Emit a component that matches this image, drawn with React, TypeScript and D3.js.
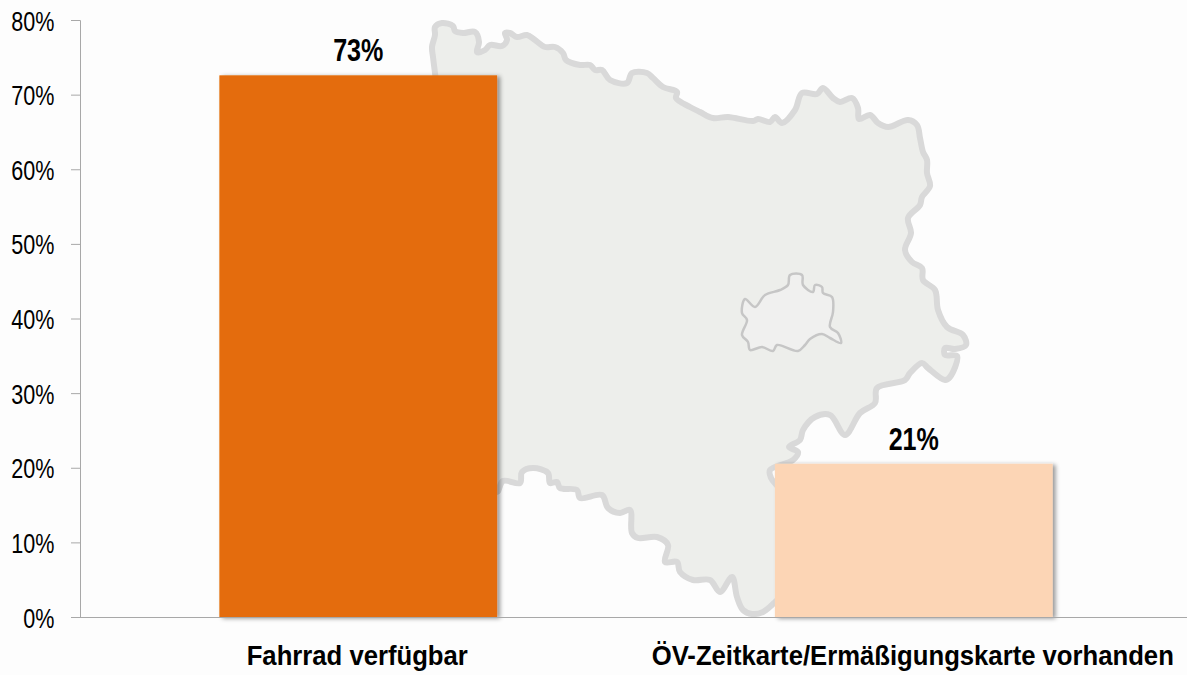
import React from "react";
import * as d3 from "d3";

const categories = ["Fahrrad verfügbar", "ÖV-Zeitkarte/Ermäßigungskarte vorhanden"];
const values = [72.65, 20.6];
const valueLabels = ["73%", "21%"];
const barColors = ["#e46c0a", "#fcd5b5"];
const tickValues = [0, 10, 20, 30, 40, 50, 60, 70, 80];

// Decorative background map, traced in page pixels
const regionOutline: [number, number][] = [
  [435,73],[433,57],[432,47],[435,35],[435,27],[442,23],[453,26],[455,31],[463,33],[475,32],[479,42],[477,52],[485,50],[490,45],[502,46],[507,40],[505,33],[510,33],[517,37],[527,35],[535,40],[545,47],[555,47],[563,53],[566,60],[580,65],[590,65],[595,70],[602,70],[610,80],[627,83],[632,73],[647,73],[653,78],[663,87],[677,92],[676,98],[690,107],[700,112],[713,118],[728,117],[753,121],[758,119],[770,122],[775,117],[782,123],[795,110],[802,93],[817,94],[823,88],[833,98],[840,102],[852,98],[858,108],[859,119],[870,115],[878,123],[888,127],[908,120],[917,125],[920,138],[923,152],[927,160],[927,173],[930,186],[922,197],[920,205],[908,218],[911,233],[905,250],[912,262],[922,268],[923,280],[935,290],[938,310],[947,327],[963,335],[966,345],[955,349],[945,348],[945,355],[957,356],[950,377],[945,380],[928,368],[922,363],[910,373],[905,380],[877,388],[875,403],[860,413],[845,435],[830,415],[815,417],[803,430],[800,440],[789,447],[798,452],[793,460],[770,470],[771,478],[780,490],[790,540],[785,590],[775,602],[763,612],[752,614],[743,610],[737,597],[732,577],[720,592],[710,580],[693,580],[680,572],[677,562],[665,562],[668,545],[657,537],[638,538],[632,533],[630,510],[620,513],[608,508],[602,495],[580,498],[577,490],[560,488],[557,482],[550,483],[548,473],[533,468],[522,472],[520,483],[503,481],[497,492],[480,400],[450,200],
];
const cityOutline: [number, number][] = [
  [790,275],[802,275],[803,285],[813,292],[815,285],[822,287],[823,293],[832,297],[833,312],[830,327],[838,333],[841,343],[830,338],[822,334],[810,339],[805,345],[798,351],[777,345],[773,351],[762,347],[750,350],[748,342],[742,335],[747,320],[742,313],[745,299],[755,307],[765,295],[780,290],[788,285],
];

const W = 1187;
const H = 675;
const axisX = 80.5;
const y = d3.scaleLinear().domain([0, 80]).range([617.5, 20.5]);
const x = d3.scaleBand().domain(categories).range([80.5, 1191.5]).paddingInner(0.5).paddingOuter(0.25);
const pathLine = d3.line<[number, number]>().curve(d3.curveCatmullRomClosed.alpha(0.5));
const FONT = "'Liberation Sans', Arial, sans-serif";

function Squeezed({ px, py, sx, anchor, size, weight, children }: any) {
  return (
    <text
      transform={`translate(${px},${py}) scale(${sx},1)`}
      textAnchor={anchor}
      fontSize={size}
      fontWeight={weight}
      fontFamily={FONT}
      fill="#000"
    >
      {children}
    </text>
  );
}

export default function App() {
  return (
    <svg
      width={W}
      height={H}
      viewBox={`0 0 ${W} ${H}`}
      style={{ position: "absolute", left: 0, top: 0, display: "block", background: "#fdfdfd" }}
    >
      <defs>
        <filter id="barShadow" x="-5%" y="-5%" width="112%" height="112%">
          <feDropShadow dx="3" dy="1" stdDeviation="2" floodColor="#000" floodOpacity="0.4" />
        </filter>
        <filter id="soft" x="-2%" y="-2%" width="104%" height="104%">
          <feGaussianBlur stdDeviation="0.5" />
        </filter>
      </defs>
      <g filter="url(#soft)">
        <path d={pathLine(regionOutline) ?? ""} fill="#edeeeb" stroke="#d9d9d9" strokeWidth={6} strokeLinejoin="round" />
        <path d={pathLine(cityOutline) ?? ""} fill="#f0f0ef" stroke="#c6c6c6" strokeWidth={2.5} strokeLinejoin="round" />
      </g>
      {categories.map((c, i) => (
        <rect
          key={c}
          x={x(c)}
          y={y(values[i])}
          width={x.bandwidth()}
          height={y(0) - y(values[i])}
          fill={barColors[i]}
          filter="url(#barShadow)"
        />
      ))}
      <line x1={axisX} x2={axisX} y1={y(80)} y2={y(0)} stroke="#a8a8a8" strokeWidth={1} />
      <line x1={71} x2={W} y1={y(0)} y2={y(0)} stroke="#a8a8a8" strokeWidth={1.2} />
      {tickValues.map((t) => (
        <g key={t}>
          <line x1={71} x2={axisX} y1={y(t)} y2={y(t)} stroke="#a8a8a8" strokeWidth={1} />
          <Squeezed px={54.5} py={y(t) + 10} sx={0.77} anchor="end" size={28} weight={400}>
            {`${t}%`}
          </Squeezed>
        </g>
      ))}
      {categories.map((c, i) => (
        <Squeezed key={c} px={(x(c) ?? 0) + x.bandwidth() / 2} py={y(values[i]) - 14} sx={0.81} anchor="middle" size={31} weight={700}>
          {valueLabels[i]}
        </Squeezed>
      ))}
      {categories.map((c) => (
        <Squeezed key={c} px={(x(c) ?? 0) + x.bandwidth() / 2 - 1} py={665} sx={0.917} anchor="middle" size={28} weight={700}>
          {c}
        </Squeezed>
      ))}
    </svg>
  );
}
